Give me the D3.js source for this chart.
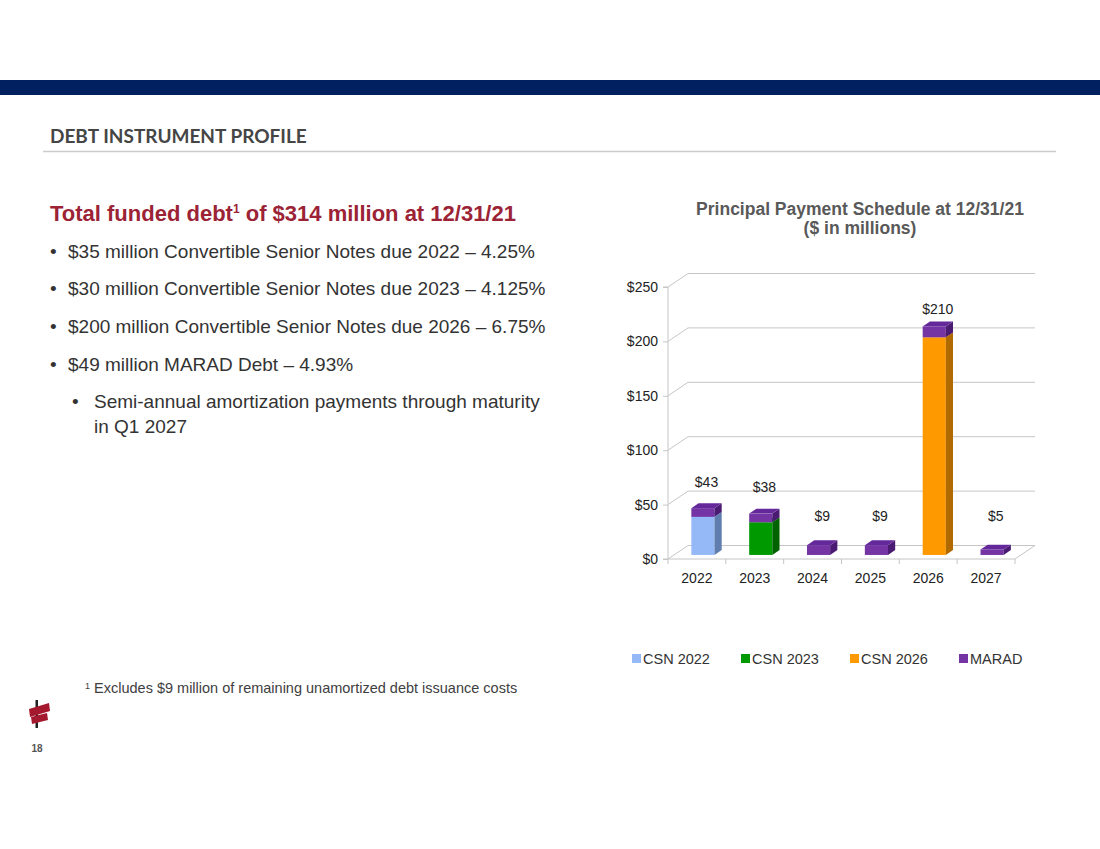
<!DOCTYPE html>
<html lang="en">
<head>
<meta charset="utf-8">
<title>Debt Instrument Profile</title>
<script src="https://d3js.org/d3.v7.min.js"></script>
<style>
	body{ margin:0; background:#fff; }
	svg{ display:block; font-family:"Liberation Sans", Arial, sans-serif; }
</style>
</head>
<body>
<svg id="slide" width="1100" height="849"></svg>
<script>
// chart data
const years = ["2022", "2023", "2024", "2025", "2026", "2027"]
const seriesNames = ["CSN 2022", "CSN 2023", "CSN 2026", "MARAD"]
const csn2022 = [35, 0, 0, 0, 0, 0]
const csn2023 = [0, 30, 0, 0, 0, 0]
const csn2026 = [0, 0, 0, 0, 200, 0]
const marad = [8, 8, 9, 9, 10, 5]
const totalLabels = ["$43", "$38", "$9", "$9", "$210", "$5"]
const yTicks = [0, 50, 100, 150, 200, 250]

// slide text
const bullets = [
	"$35 million Convertible Senior Notes due 2022 \u2013 4.25%",
	"$30 million Convertible Senior Notes due 2023 \u2013 4.125%",
	"$200 million Convertible Senior Notes due 2026 \u2013 6.75%",
	"$49 million MARAD Debt \u2013 4.93%"
]
const subBullet = ["Semi-annual amortization payments through maturity", "in Q1 2027"]

// colours: front, side, top per series
const colors = {
	"CSN 2022": ["#95b9f7", "#5f7eaf", "#a9c6f9"],
	"CSN 2023": ["#009900", "#006200", "#00ad00"],
	"CSN 2026": ["#ff9900", "#b06a00", "#ffaa2a"],
	"MARAD":    ["#7434a4", "#4b1a72", "#64289a"]
}

var svg = d3.select("#slide")

// ---- slide frame ----
svg.append("rect").attr("x", 0).attr("y", 80).attr("width", 1100).attr("height", 15).attr("fill", "#002060")
svg.append("text").attr("x", 50).attr("y", 142.5)
	.style("font-family", "Lato, sans-serif").style("font-weight", 700).style("font-size", "19px")
	.attr("fill", "#454545").text("DEBT INSTRUMENT PROFILE")
svg.append("line").attr("x1", 43).attr("x2", 1056).attr("y1", 151.5).attr("y2", 151.5)
	.attr("stroke", "#cccccc").attr("stroke-width", 1.5)

// headline
var head = svg.append("text").attr("x", 50).attr("y", 221)
	.attr("fill", "#9b2335").style("font-weight", "bold").style("font-size", "22px")
head.append("tspan").text("Total funded debt")
head.append("tspan").attr("dy", -8).style("font-size", "12px").text("1")
head.append("tspan").attr("dy", 8).text(" of $314 million at 12/31/21")

// bullets
var lineY = [258, 295, 333, 371]
bullets.forEach(function(b, i){
	svg.append("text").attr("x", 50).attr("y", lineY[i]).attr("fill", "#333")
		.style("font-size", "19px").text("\u2022")
	svg.append("text").attr("x", 68).attr("y", lineY[i]).attr("fill", "#333")
		.style("font-size", "19px").text(b)
})
svg.append("text").attr("x", 72).attr("y", 408).attr("fill", "#333").style("font-size", "19px").text("\u2022")
subBullet.forEach(function(s, i){
	svg.append("text").attr("x", 94).attr("y", 408 + i * 25).attr("fill", "#333")
		.style("font-size", "19px").text(s)
})

// footnote
var foot = svg.append("text").attr("x", 85).attr("y", 693).attr("fill", "#404040").style("font-size", "14.5px")
foot.append("tspan").attr("dy", -4).style("font-size", "9px").text("1")
foot.append("tspan").attr("dy", 4).text(" Excludes $9 million of remaining unamortized debt issuance costs")

// logo + page number
var logo = svg.append("g")
logo.append("rect").attr("x", 35.5).attr("y", 700).attr("width", 2.5).attr("height", 28).attr("fill", "#222")
logo.append("path").attr("d", "M29,709 L49,703 L50,711 L30,717 Z").attr("fill", "#a5192e")
logo.append("path").attr("d", "M31,717 L47,713 L48,720 L32,724 Z").attr("fill", "#a5192e")
svg.append("text").attr("x", 37).attr("y", 752).attr("text-anchor", "middle")
	.attr("fill", "#555").style("font-weight", "bold").style("font-size", "10px").text("18")

// ---- 3D-look chart ----
var x0 = 668, x1 = 1015
var depthX = 20, depthY = -13.5      // offset of the back wall
var barT0 = 0.3, barT1 = 0.66        // bar depth position inside the floor

var x = d3.scaleBand().domain(years).range([x0, x1]).paddingInner(0.6).paddingOuter(0.3)
var xCat = d3.scaleBand().domain(years).range([x0, x1])
var y = d3.scaleLinear().domain([0, 250]).range([559, 287])

var chart = svg.append("g")

// title
chart.append("text").attr("x", 860).attr("y", 215).attr("text-anchor", "middle")
	.attr("fill", "#595959").style("font-weight", "bold").style("font-size", "17.5px")
	.text("Principal Payment Schedule at 12/31/21")
chart.append("text").attr("x", 860).attr("y", 234).attr("text-anchor", "middle")
	.attr("fill", "#595959").style("font-weight", "bold").style("font-size", "17.5px")
	.text("($ in millions)")

// back wall gridlines and side wall diagonals
var grid = chart.append("g").attr("stroke", "#c6c6c6").attr("fill", "none").attr("stroke-width", 1)
yTicks.forEach(function(t){
	grid.append("path").attr("d",
		"M" + x0 + "," + y(t) + " L" + (x0 + depthX) + "," + (y(t) + depthY) + " L" + (x1 + depthX) + "," + (y(t) + depthY))
})
// floor outline
grid.append("path").attr("d",
	"M" + x0 + "," + y(0) + " L" + x1 + "," + y(0) + " L" + (x1 + depthX) + "," + (y(0) + depthY))

// y axis on the front plane
var yAxis = chart.append("g").attr("transform", "translate(" + x0 + ",0)")
	.call(d3.axisLeft(y).tickValues(yTicks).tickSize(5).tickPadding(5).tickFormat(d => "$" + d))
yAxis.select(".domain").attr("stroke", "#c6c6c6").attr("d", "M-5," + y(250) + "H0V" + y(0) + "H-5")
yAxis.selectAll(".tick line").attr("stroke", "#c6c6c6")
yAxis.selectAll("text").attr("fill", "#222").style("font-size", "14px").style("font-family", "Liberation Sans, Arial, sans-serif")

// x axis: boundary ticks + category labels
var xAxis = chart.append("g")
years.concat(["end"]).forEach(function(yr, i){
	var xx = x0 + i * xCat.step()
	xAxis.append("line").attr("x1", xx).attr("x2", xx).attr("y1", y(0)).attr("y2", y(0) + 5).attr("stroke", "#c6c6c6")
})
xAxis.selectAll("text.cat").data(years).enter().append("text").attr("class", "cat")
	.attr("x", d => xCat(d) + xCat.bandwidth() / 2).attr("y", 583)
	.attr("text-anchor", "middle").attr("fill", "#222").style("font-size", "14px").text(d => d)

// stacked data
var rows = years.map(function(yr, i){
	return { year: yr, "CSN 2022": csn2022[i], "CSN 2023": csn2023[i], "CSN 2026": csn2026[i], "MARAD": marad[i] }
})
var stack = d3.stack().keys(seriesNames)(rows)

var bx = depthX * barT0, by = depthY * barT0
var dX = depthX * (barT1 - barT0), dY = depthY * (barT1 - barT0)
var bars = chart.append("g")
// bottom segments first so the upper ones cover their top faces
years.forEach(function(yr, i){
	stack.forEach(function(s){
		var seg = s[i]
		if (seg[1] - seg[0] <= 0) return
		var c = colors[s.key]
		var l = x(yr) + bx, r = l + x.bandwidth()
		var top = y(seg[1]) + by, bot = y(seg[0]) + by
		var g = bars.append("g")
		g.append("rect").attr("x", l).attr("y", top).attr("width", r - l).attr("height", bot - top).attr("fill", c[0])
		g.append("path").attr("fill", c[1]).attr("d",
			"M" + r + "," + top + " L" + (r + dX) + "," + (top + dY) + " L" + (r + dX) + "," + (bot + dY) + " L" + r + "," + bot + "Z")
		g.append("path").attr("fill", c[2]).attr("d",
			"M" + l + "," + top + " L" + (l + dX) + "," + (top + dY) + " L" + (r + dX) + "," + (top + dY) + " L" + r + "," + top + "Z")
	})
})

// total labels (perspective pulls them down a little for tall bars)
var totals = years.map((yr, i) => csn2022[i] + csn2023[i] + csn2026[i] + marad[i])
chart.selectAll("text.total").data(years).enter().append("text").attr("class", "total")
	.attr("x", d => x(d) + bx + x.bandwidth() / 2 + dX / 2)
	.attr("y", (d, i) => Math.min(y(totals[i] * 0.95) + by - 24, 521))
	.attr("text-anchor", "middle").attr("fill", "#222").style("font-size", "14px")
	.text((d, i) => totalLabels[i])

// legend
var legX = [632, 741, 850, 959]
var leg = chart.selectAll("g.leg").data(seriesNames).enter().append("g").attr("class", "leg")
	.attr("transform", (d, i) => "translate(" + legX[i] + ",659)")
leg.append("rect").attr("x", 0).attr("y", -5).attr("width", 9).attr("height", 9).attr("fill", d => colors[d][0])
leg.append("text").attr("x", 11).attr("y", 5).attr("fill", "#333").style("font-size", "14.5px").text(d => d)
</script>
</body>
</html>
